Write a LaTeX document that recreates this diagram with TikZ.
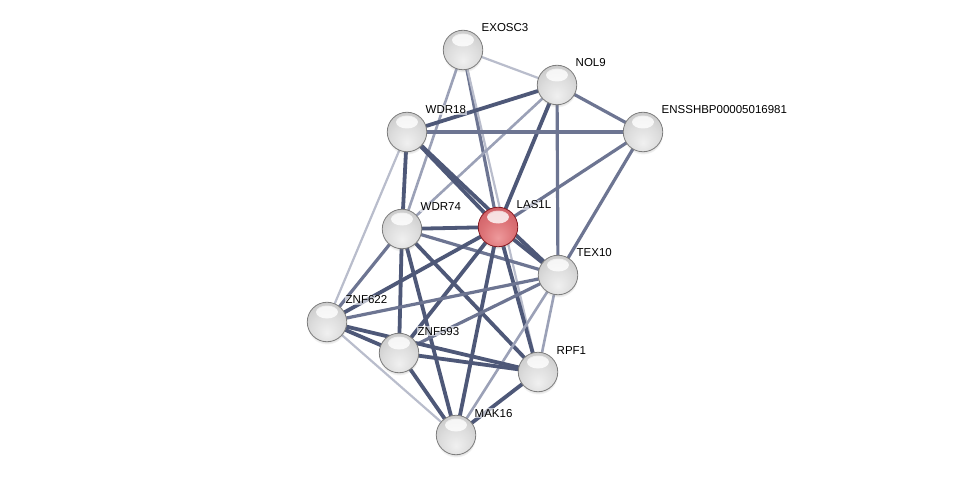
\documentclass[tikz,border=0pt]{standalone}
\usepackage{fontspec}
\setmainfont{Liberation Sans}
\usetikzlibrary{fadings,shadows}
\definecolor{edgeS}{HTML}{4E5878}
\definecolor{edgeM}{HTML}{6D7592}
\definecolor{edgeL}{HTML}{9BA1B7}
\definecolor{edgeXL}{HTML}{B9BDCC}
\definecolor{gA}{HTML}{F0F0F0}
\definecolor{gB}{HTML}{DCDCDC}
\definecolor{gC}{HTML}{C6C6C6}
\definecolor{gD}{HTML}{A2A2A2}
\definecolor{gE}{HTML}{7E7E7E}
\definecolor{rA}{HTML}{EE9A9C}
\definecolor{rB}{HTML}{DC7276}
\definecolor{rC}{HTML}{CD5C62}
\definecolor{rD}{HTML}{AE3C44}
\definecolor{rE}{HTML}{861C24}
\pgfdeclareradialshading{grayball}{\pgfpoint{0bp}{-14bp}}{color(0bp)=(gA); color(20bp)=(gB); color(36bp)=(gC); color(52bp)=(gD); color(66bp)=(gE)}
\pgfdeclareradialshading{redball}{\pgfpoint{0bp}{-14bp}}{color(0bp)=(rA); color(20bp)=(rB); color(36bp)=(rC); color(52bp)=(rD); color(66bp)=(rE)}
\pgfdeclarelayer{bg}
\pgfdeclarelayer{edges}
\pgfsetlayers{bg,edges,main}
\tikzset{
  ball/.style={circle, minimum size=39.5pt, inner sep=0pt, shading=grayball, draw=gE, line width=0.8pt,
    circular drop shadow={shadow xshift=0pt, shadow yshift=-2.5pt, opacity=0.25, shadow scale=1.02},
    path picture={\fill[white, opacity=0.8, path fading=circle with fuzzy edge 20 percent]
      ([yshift=10pt]path picture bounding box.center) ellipse (11pt and 6.5pt);}},
  redballstyle/.style={ball, shading=redball, draw=rE},
  lbl/.style={font=\fontsize{11.5}{13}\selectfont, text=black, inner sep=1pt, fill=white, fill opacity=0.6, text opacity=1},
  strong/.style={draw=edgeS, line width=3.8pt},
  medium/.style={draw=edgeM, line width=3.2pt},
  light/.style={draw=edgeL, line width=2.6pt},
  faint/.style={draw=edgeXL, line width=2.2pt},
}
\begin{document}
\begin{tikzpicture}[x=1pt, y=-1pt]
\begin{pgfonlayer}{bg}
\fill[white] (0,0) rectangle (975,481);
\end{pgfonlayer}
\path[use as bounding box] (0,0) rectangle (975,481);
% nodes
\node[ball] (EXOSC3) at (463,50) {};
\node[ball] (NOL9) at (557,85) {};
\node[ball] (WDR18) at (407,132) {};
\node[ball] (ENS) at (643,132) {};
\node[redballstyle] (LAS1L) at (498,227) {};
\node[ball] (WDR74) at (402,229) {};
\node[ball] (TEX10) at (558,275) {};
\node[ball] (ZNF622) at (327,322) {};
\node[ball] (ZNF593) at (399,353) {};
\node[ball] (RPF1) at (538,372) {};
\node[ball] (MAK16) at (456,435) {};
% labels
\node[lbl, anchor=base west] (EXOSC3-l) at ([xshift=17.5pt,yshift=18pt]EXOSC3.center) {EXOSC3};
\node[lbl, anchor=base west] (NOL9-l) at ([xshift=17.5pt,yshift=18pt]NOL9.center) {NOL9};
\node[lbl, anchor=base west] (WDR18-l) at ([xshift=17.5pt,yshift=18pt]WDR18.center) {WDR18};
\node[lbl, anchor=base west] (ENS-l) at ([xshift=17.5pt,yshift=18pt]ENS.center) {ENSSHBP00005016981};
\node[lbl, anchor=base west] (LAS1L-l) at ([xshift=17.5pt,yshift=18pt]LAS1L.center) {LAS1L};
\node[lbl, anchor=base west] (WDR74-l) at ([xshift=17.5pt,yshift=18pt]WDR74.center) {WDR74};
\node[lbl, anchor=base west] (TEX10-l) at ([xshift=17.5pt,yshift=18pt]TEX10.center) {TEX10};
\node[lbl, anchor=base west] (ZNF622-l) at ([xshift=17.5pt,yshift=18pt]ZNF622.center) {ZNF622};
\node[lbl, anchor=base west] (ZNF593-l) at ([xshift=17.5pt,yshift=18pt]ZNF593.center) {ZNF593};
\node[lbl, anchor=base west] (RPF1-l) at ([xshift=17.5pt,yshift=18pt]RPF1.center) {RPF1};
\node[lbl, anchor=base west] (MAK16-l) at ([xshift=17.5pt,yshift=18pt]MAK16.center) {MAK16};
% edges
\begin{pgfonlayer}{edges}
\draw[faint] (EXOSC3.center) -- (NOL9.center);
\draw[medium] (EXOSC3.center) -- (LAS1L.center);
\draw[light] (EXOSC3.center) -- (WDR74.center);
\draw[faint] (EXOSC3.center) -- (RPF1.center);
\draw[strong] (NOL9.center) -- (WDR18.center);
\draw[light] (NOL9.center) -- (WDR74.center);
\draw[strong] (NOL9.center) -- (LAS1L.center);
\draw[medium] (NOL9.center) -- (TEX10.center);
\draw[medium] (NOL9.center) -- (ENS.center);
\draw[medium] (WDR18.center) -- (ENS.center);
\draw[strong] (WDR18.center) -- (LAS1L.center);
\draw[strong] (WDR18.center) -- (TEX10.center);
\draw[strong] (WDR18.center) -- (WDR74.center);
\draw[faint] (WDR18.center) -- (ZNF622.center);
\draw[medium] (ENS.center) -- (LAS1L.center);
\draw[medium] (ENS.center) -- (TEX10.center);
\draw[strong] (WDR74.center) -- (LAS1L.center);
\draw[medium] (WDR74.center) -- (TEX10.center);
\draw[medium] (WDR74.center) -- (ZNF622.center);
\draw[strong] (WDR74.center) -- (ZNF593.center);
\draw[strong] (WDR74.center) -- (RPF1.center);
\draw[strong] (WDR74.center) -- (MAK16.center);
\draw[strong] (LAS1L.center) -- (TEX10.center);
\draw[strong] (LAS1L.center) -- (ZNF622.center);
\draw[strong] (LAS1L.center) -- (ZNF593.center);
\draw[strong] (LAS1L.center) -- (MAK16.center);
\draw[strong] (LAS1L.center) -- (RPF1.center);
\draw[medium] (TEX10.center) -- (ZNF622.center);
\draw[medium] (TEX10.center) -- (ZNF593.center);
\draw[light] (TEX10.center) -- (RPF1.center);
\draw[light] (TEX10.center) -- (MAK16.center);
\draw[strong] (ZNF622.center) -- (ZNF593.center);
\draw[strong] (ZNF622.center) -- (RPF1.center);
\draw[faint] (ZNF622.center) -- (MAK16.center);
\draw[strong] (ZNF593.center) -- (RPF1.center);
\draw[strong] (ZNF593.center) -- (MAK16.center);
\draw[strong] (RPF1.center) -- (MAK16.center);
\end{pgfonlayer}
\end{tikzpicture}
\end{document}
